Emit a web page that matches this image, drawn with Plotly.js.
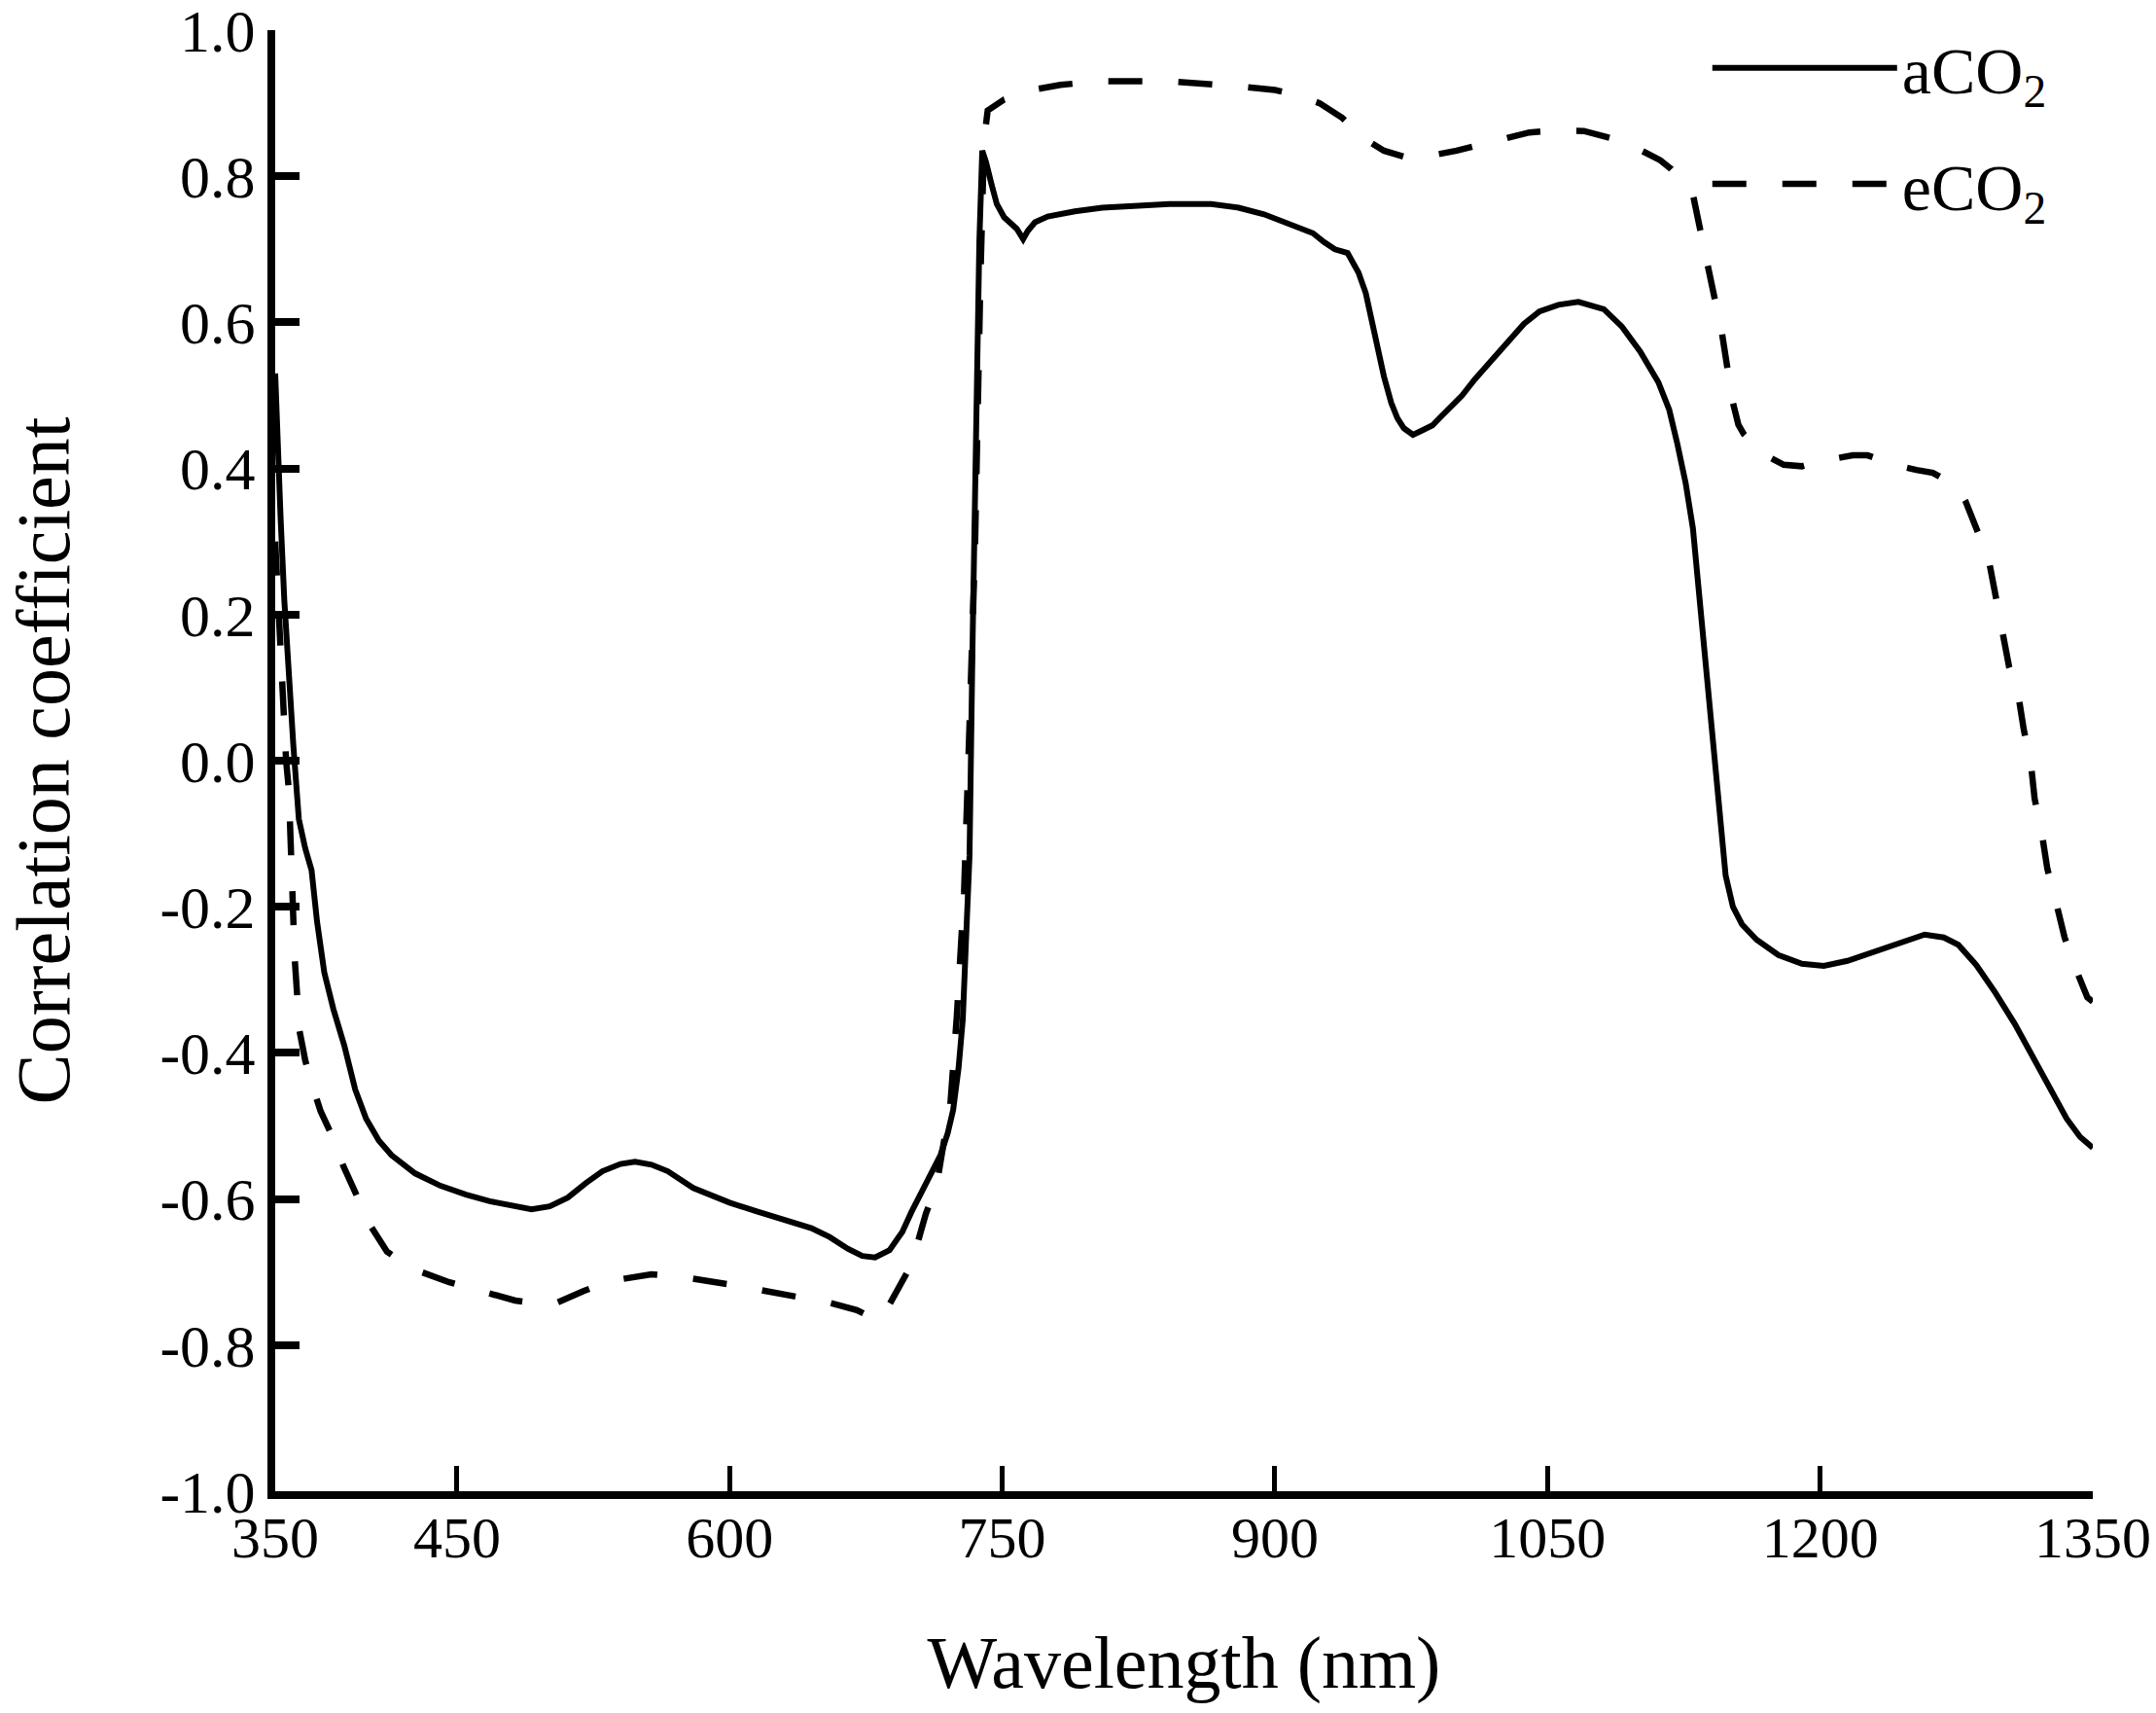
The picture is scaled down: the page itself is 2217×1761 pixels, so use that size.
<!DOCTYPE html>
<html>
<head>
<meta charset="utf-8">
<script src="https://cdn.plot.ly/plotly-3.0.1.min.js"></script>
<style>
  html, body { margin: 0; padding: 0; background: #fff; }
  #chart { width: 2217px; height: 1761px; }
</style>
</head>
<body>
<div id="chart"></div>
<script>
// wavelength (nm) and correlation coefficient
var wlA = [350, 351, 353, 355, 357.5, 360, 363, 366.5, 370, 373, 377, 382, 388, 394, 400, 407, 414, 427, 441, 455,
  468, 480, 491, 501, 511, 521, 530, 540, 548, 557, 566, 580, 600, 615, 630, 645, 655, 665, 673, 680,
  688, 695, 700, 706, 712, 716, 720, 723, 726, 728.3, 730, 732, 733.6, 735.3, 737.4, 739, 741, 744, 747, 751,
  755, 758, 761.5, 764, 768, 775, 790, 805, 820, 842, 865, 880, 894, 905, 915, 921, 927, 933, 940, 946,
  950, 953, 957, 960, 964, 967.4, 971, 976, 981, 986.7, 991, 997, 1003, 1010, 1019, 1028, 1037, 1045.6, 1056, 1067,
  1081, 1091, 1101, 1111, 1117, 1121.5, 1126, 1130, 1136, 1142, 1148, 1152, 1157, 1165, 1177, 1190, 1202, 1215, 1228.5, 1243,
  1257.5, 1268, 1276, 1286, 1296.5, 1307, 1317, 1327, 1335.6, 1343, 1350];
var aCO2 = [0.53, 0.45, 0.33, 0.22, 0.11, 0.02, -0.08, -0.12, -0.15, -0.22, -0.29, -0.34, -0.39, -0.45, -0.49, -0.52, -0.54, -0.565, -0.582, -0.594,
  -0.603, -0.609, -0.614, -0.61, -0.598, -0.578, -0.562, -0.552, -0.549, -0.553, -0.562, -0.585, -0.605, -0.617, -0.628, -0.64, -0.652, -0.668, -0.678, -0.68,
  -0.67, -0.645, -0.618, -0.59, -0.56, -0.54, -0.51, -0.478, -0.42, -0.354, -0.25, -0.13, 0.15, 0.43, 0.71, 0.835, 0.82, 0.79, 0.762, 0.744,
  0.735, 0.728, 0.714, 0.725, 0.737, 0.745, 0.752, 0.757, 0.759, 0.762, 0.762, 0.757, 0.748, 0.737, 0.728, 0.722, 0.71, 0.70, 0.695, 0.668,
  0.64, 0.606, 0.56, 0.526, 0.49, 0.469, 0.455, 0.446, 0.452, 0.459, 0.47, 0.485, 0.5, 0.522, 0.548, 0.575, 0.598, 0.615, 0.624, 0.628,
  0.618, 0.594, 0.56, 0.518, 0.48, 0.433, 0.38, 0.318, 0.166, 0.004, -0.157, -0.2, -0.224, -0.245, -0.266, -0.278, -0.281, -0.274, -0.262, -0.249,
  -0.238, -0.242, -0.252, -0.28, -0.318, -0.36, -0.405, -0.45, -0.49, -0.515, -0.53];

var wlE = [350, 352, 354.3, 356, 357.5, 359, 360.7, 363.4, 366.5, 369.8, 375, 381.6, 387.5, 393.9, 402, 411.5, 425, 445.8, 465, 482,
  496, 505, 519.6, 535, 557, 575, 600, 630, 655, 670, 678, 684, 693, 700, 708, 714, 718, 721, 725, 729,
  732, 735, 738, 740, 742, 751, 764, 782, 803, 842, 880, 900, 911, 924.6, 937, 949, 960, 972, 985, 1000,
  1021, 1040, 1056, 1070, 1085, 1101, 1112, 1118, 1124, 1130, 1134, 1138, 1142, 1146, 1149, 1152, 1155, 1158, 1164, 1170,
  1180, 1190, 1200, 1208, 1218, 1226, 1235, 1244, 1253, 1262, 1270, 1275, 1280, 1284, 1288, 1292, 1296, 1300, 1304, 1309,
  1312, 1316, 1318, 1322, 1325, 1330, 1334.5, 1340, 1347, 1350];
var eCO2 = [0.30, 0.19, 0.075, 0.0, -0.04, -0.16, -0.27, -0.37, -0.41, -0.44, -0.48, -0.515, -0.555, -0.59, -0.635, -0.672, -0.695, -0.714, -0.728, -0.739,
  -0.744, -0.742, -0.726, -0.712, -0.703, -0.707, -0.717, -0.73, -0.742, -0.752, -0.762, -0.762, -0.72, -0.69, -0.62, -0.58, -0.52, -0.486, -0.35, -0.18,
  0.05, 0.29, 0.66, 0.85, 0.89, 0.905, 0.917, 0.925, 0.93, 0.93, 0.923, 0.918, 0.912, 0.90, 0.88, 0.852, 0.835, 0.826, 0.828, 0.835,
  0.848, 0.86, 0.863, 0.862, 0.852, 0.836, 0.822, 0.81, 0.795, 0.775, 0.727, 0.68, 0.632, 0.585, 0.537, 0.49, 0.46, 0.447, 0.432, 0.418,
  0.405, 0.403, 0.41, 0.414, 0.418, 0.418, 0.41, 0.403, 0.398, 0.394, 0.383, 0.376, 0.355, 0.328, 0.305, 0.285, 0.233, 0.185, 0.128, 0.09,
  0.043, -0.005, -0.052, -0.10, -0.148, -0.196, -0.242, -0.281, -0.324, -0.33];

var xTicks = [350, 450, 600, 750, 900, 1050, 1200, 1350];
var yTicks = [-1.0, -0.8, -0.6, -0.4, -0.2, 0.0, 0.2, 0.4, 0.6, 0.8, 1.0];
var yTickText = ['-1.0', '-0.8', '-0.6', '-0.4', '-0.2', '0.0', '0.2', '0.4', '0.6', '0.8', '1.0'];

var serif = 'Liberation Serif, Times New Roman, serif';

var traces = [
  {
    x: wlA, y: aCO2, type: 'scatter', mode: 'lines', name: 'aCO<sub>2</sub>',
    legendgroup: 'a',
    line: {color: '#000', width: 6}
  },
  {
    x: wlE, y: eCO2, type: 'scatter', mode: 'lines', name: 'eCO<sub>2</sub>',
    legendgroup: 'e',
    line: {color: '#000', width: 6.5, dash: '35px,37px'}
  }
];

var layout = {
  width: 2217, height: 1761,
  margin: {l: 283, r: 65, t: 31, b: 228},
  paper_bgcolor: '#fff', plot_bgcolor: '#fff',
  font: {family: serif, color: '#000', size: 60},
  showlegend: true,
  legend: {
    x: 0.788, y: 1.008, xanchor: 'left', yanchor: 'top',
    bgcolor: 'rgba(0,0,0,0)', borderwidth: 0,
    font: {family: serif, size: 68, color: '#000'},
    itemwidth: 190, traceorder: 'grouped', tracegroupgap: 28
  },
  xaxis: {
    range: [350, 1350], showgrid: false, zeroline: false,
    showline: true, linecolor: '#000', linewidth: 8, mirror: false,
    ticks: 'inside', ticklen: 26, tickwidth: 5, tickcolor: '#000',
    tickvals: xTicks, ticklabelstandoff: -12, ticklabeloverflow: 'allow',
    tickfont: {family: serif, size: 60},
    title: {text: 'Wavelength (nm)', font: {family: serif, size: 76}, standoff: 72}
  },
  yaxis: {
    range: [-1, 1], showgrid: false, zeroline: false,
    showline: true, linecolor: '#000', linewidth: 8, mirror: false,
    ticks: 'inside', ticklen: 25, tickwidth: 8, tickcolor: '#000',
    tickvals: yTicks, ticktext: yTickText, ticklabelstandoff: 0, ticklabeloverflow: 'allow',
    tickfont: {family: serif, size: 62},
    title: {text: 'Correlation coefficient', font: {family: serif, size: 78}, standoff: 70}
  }
};

Plotly.newPlot('chart', traces, layout, {displayModeBar: false, staticPlot: true});
</script>
</body>
</html>
